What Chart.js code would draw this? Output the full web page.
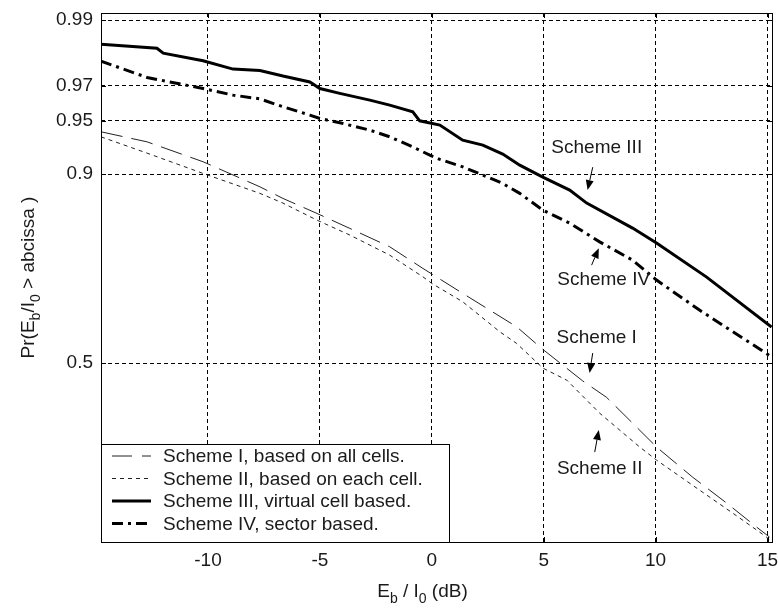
<!DOCTYPE html>
<html>
<head>
<meta charset="utf-8">
<script src="https://cdn.jsdelivr.net/npm/chart.js@4.4.1/dist/chart.umd.min.js"></script>
<style>
  body { margin: 0; background: #fff; }
  canvas { display: block; }
</style>
</head>
<body>
<canvas id="cdfChart" width="778" height="610"></canvas>
<script>
// Axis ranges (Eb/I0 in dB, probability on normal-probability paper)
const X_MIN = -14.78, X_MAX = 15.2;
const P_MIN = 0.1125, P_MAX = 0.9912;
const xTicks = [-10, -5, 0, 5, 10, 15];
const yTickProbs = [0.5, 0.9, 0.95, 0.97, 0.99];
const yTickLabels = ['0.5', '0.9', '0.95', '0.97', '0.99'];

// Scheme I, based on all cells
const schemeIdB = [-14.78, -12.72, -10.22, -7.68, -6.65, -5.13, -3.66, -1.88, -0.40, 1.38, 3.79, 4.96, 6.74, 7.81, 8.97, 10.04, 11.65, 13.17, 14.51, 15.09];
const schemeIProb = [0.9416, 0.9332, 0.9139, 0.8840, 0.8679, 0.8449, 0.8194, 0.7848, 0.7396, 0.6818, 0.5972, 0.537, 0.452, 0.408, 0.342, 0.2846, 0.2197, 0.1713, 0.1331, 0.1190];

// Scheme II, based on each cell
const schemeIIdB = [-14.78, -12.72, -10.22, -7.68, -6.65, -5.13, -3.66, -1.88, -0.40, 0, 1.38, 3.04, 3.79, 4.96, 6.03, 7.5, 9.29, 10.04, 11.96, 13.44, 14.96, 15.18];
const schemeIIProb = [0.9375, 0.9227, 0.9008, 0.8751, 0.8610, 0.8338, 0.8073, 0.7679, 0.7208, 0.7055, 0.6612, 0.584, 0.553, 0.4865, 0.454, 0.367, 0.2846, 0.2553, 0.1946, 0.1546, 0.119, 0.1124];

// Scheme III, virtual cell based
const schemeIIIdB = [-14.78, -12.28, -12.0, -10.22, -8.88, -7.68, -6.65, -5.45, -5.0, -4.11, -2.77, -1.88, -0.85, -0.54, 0.36, 1.38, 2.28, 3.17, 3.93, 4.96, 6.16, 6.92, 8.97, 10.04, 12.28, 15.18];
const schemeIIIProb = [0.9847, 0.9836, 0.9822, 0.9798, 0.9769, 0.9764, 0.9742, 0.9717, 0.9687, 0.9663, 0.9627, 0.9599, 0.9558, 0.9498, 0.9467, 0.9347, 0.9303, 0.9218, 0.9102, 0.8964, 0.8796, 0.8610, 0.8200, 0.7921, 0.7200, 0.5964];

// Scheme IV, sector based
const schemeIVdB = [-14.78, -12.72, -10.22, -8.88, -7.68, -6.65, -5.45, -5.0, -4.11, -2.77, -1.88, -0.85, -0.09, 0.36, 1.38, 2.28, 3.17, 3.93, 4.96, 6.16, 7.5, 8.97, 10.04, 11.96, 15.18];
const schemeIVProb = [0.9797, 0.9736, 0.9687, 0.9654, 0.9634, 0.9589, 0.9537, 0.9514, 0.9484, 0.9429, 0.9375, 0.9287, 0.9207, 0.9164, 0.9084, 0.8988, 0.8884, 0.8751, 0.8502, 0.8287, 0.7945, 0.7574, 0.7132, 0.6403, 0.517];

const legendLabels = ['Scheme I, based on all cells.', 'Scheme II, based on each cell.', 'Scheme III, virtual cell based.', 'Scheme IV, sector based.'];

// Callout text with arrow (tail -> tip), in dB / probability
const callouts = [
  { text: 'Scheme III', x: 7.37, p: 0.9276, tail: [7.19, 0.908], tip: [6.96, 0.8796] },
  { text: 'Scheme IV', x: 7.68, p: 0.713, tail: [7.14, 0.7467], tip: [7.46, 0.782] },
  { text: 'Scheme I', x: 7.37, p: 0.567, tail: [7.19, 0.527], tip: [7.05, 0.473] },
  { text: 'Scheme II', x: 7.5, p: 0.236, tail: [7.28, 0.273], tip: [7.46, 0.325] }
];

const FONT = '"Liberation Sans", Arial, sans-serif';
const TEXT_COLOR = '#1a1a1a';

// inverse of the standard normal CDF (Acklam's rational approximation)
function probit(p) {
  const a = [-3.969683028665376e+01, 2.209460984245205e+02, -2.759285104469687e+02, 1.383577518672690e+02, -3.066479806614716e+01, 2.506628277459239e+00];
  const b = [-5.447609879822406e+01, 1.615858368580409e+02, -1.556989798598866e+02, 6.680131188771972e+01, -1.328068155288572e+01];
  const c = [-7.784894002430293e-03, -3.223964580411365e-01, -2.400758277161838e+00, -2.549732539343734e+00, 4.374664141464968e+00, 2.938163982698783e+00];
  const d = [7.784695709041462e-03, 3.224671290700398e-01, 2.445134137142996e+00, 3.754408661907416e+00];
  const pl = 0.02425;
  let q, r;
  if (p < pl) {
    q = Math.sqrt(-2 * Math.log(p));
    return (((((c[0]*q+c[1])*q+c[2])*q+c[3])*q+c[4])*q+c[5]) / ((((d[0]*q+d[1])*q+d[2])*q+d[3])*q+1);
  }
  if (p > 1 - pl) {
    q = Math.sqrt(-2 * Math.log(1 - p));
    return -(((((c[0]*q+c[1])*q+c[2])*q+c[3])*q+c[4])*q+c[5]) / ((((d[0]*q+d[1])*q+d[2])*q+d[3])*q+1);
  }
  q = p - 0.5; r = q * q;
  return (((((a[0]*r+a[1])*r+a[2])*r+a[3])*r+a[4])*r+a[5])*q / (((((b[0]*r+b[1])*r+b[2])*r+b[3])*r+b[4])*r+1);
}

const toPoints = (xs, ps) => xs.map((x, i) => ({ x: x, y: probit(ps[i]) }));

// text with subscripts: parts = [[text, isSub], ...]
function drawRich(ctx, parts, x, y) {
  const main = '19px ' + FONT, sub = '14px ' + FONT;
  let w = 0;
  parts.forEach(([t, s]) => { ctx.font = s ? sub : main; w += ctx.measureText(t).width; });
  let cx = x - w / 2;
  ctx.textAlign = 'left';
  ctx.textBaseline = 'alphabetic';
  parts.forEach(([t, s]) => {
    ctx.font = s ? sub : main;
    ctx.fillText(t, cx, s ? y + 6 : y);
    cx += ctx.measureText(t).width;
  });
}

function arrow(ctx, x0, y0, x1, y1) {
  const ang = Math.atan2(y1 - y0, x1 - x0), len = 10, hw = 4;
  ctx.beginPath();
  ctx.moveTo(x0, y0);
  ctx.lineTo(x1 - Math.cos(ang) * len, y1 - Math.sin(ang) * len);
  ctx.lineWidth = 1;
  ctx.stroke();
  ctx.beginPath();
  ctx.moveTo(x1, y1);
  ctx.lineTo(x1 - Math.cos(ang) * len - Math.sin(ang) * hw, y1 - Math.sin(ang) * len + Math.cos(ang) * hw);
  ctx.lineTo(x1 - Math.cos(ang) * len + Math.sin(ang) * hw, y1 - Math.sin(ang) * len - Math.cos(ang) * hw);
  ctx.closePath();
  ctx.fill();
}

// box, inside ticks, legend, callouts and axis titles
const decorations = {
  id: 'decorations',
  afterDatasetsDraw(chart) {
    const { ctx, chartArea: a, scales } = chart;
    const xs = scales.x, ys = scales.y;
    ctx.save();
    ctx.strokeStyle = '#000';
    ctx.fillStyle = '#000';
    ctx.lineWidth = 1;
    ctx.setLineDash([]);

    // inward tick marks on all four sides
    ctx.beginPath();
    xTicks.forEach(v => {
      const px = Math.round(xs.getPixelForValue(v)) + 0.5;
      ctx.moveTo(px, a.top); ctx.lineTo(px, a.top + 5);
      ctx.moveTo(px, a.bottom); ctx.lineTo(px, a.bottom - 5);
    });
    yTickProbs.forEach(p => {
      const py = Math.round(ys.getPixelForValue(probit(p))) + 0.5;
      ctx.moveTo(a.left, py); ctx.lineTo(a.left + 5, py);
      ctx.moveTo(a.right, py); ctx.lineTo(a.right - 5, py);
    });
    ctx.stroke();

    // legend box in the lower left corner
    const lx = a.left, ly = a.bottom - 98, lw = 348, lh = 98;
    ctx.fillStyle = '#fff';
    ctx.fillRect(lx, ly, lw, lh);
    ctx.strokeStyle = '#000';
    ctx.strokeRect(lx + 0.5, ly + 0.5, lw, lh);
    chart.data.datasets.forEach((ds, i) => {
      const ry = ly + 12 + i * 22.5;
      ctx.beginPath();
      ctx.strokeStyle = ds.borderColor;
      ctx.lineWidth = ds.borderWidth;
      ctx.setLineDash(ds.legendDash || ds.borderDash || []);
      ctx.moveTo(lx + 11, ry); ctx.lineTo(lx + 50, ry);
      ctx.stroke();
      ctx.setLineDash([]);
      ctx.fillStyle = TEXT_COLOR;
      ctx.font = '19px ' + FONT;
      ctx.textAlign = 'left';
      ctx.textBaseline = 'middle';
      ctx.fillText(legendLabels[i], lx + 62, ry + 1);
    });

    // callouts
    ctx.strokeStyle = '#000';
    ctx.fillStyle = '#000';
    callouts.forEach(c => {
      const tx = xs.getPixelForValue(c.x), ty = ys.getPixelForValue(probit(c.p));
      ctx.fillStyle = TEXT_COLOR;
      ctx.font = '19px ' + FONT;
      ctx.textAlign = 'center';
      ctx.textBaseline = 'middle';
      ctx.fillText(c.text, tx, ty);
      ctx.fillStyle = '#000';
      arrow(ctx,
        xs.getPixelForValue(c.tail[0]), ys.getPixelForValue(probit(c.tail[1])),
        xs.getPixelForValue(c.tip[0]), ys.getPixelForValue(probit(c.tip[1])));
    });

    // axes box
    ctx.strokeStyle = '#000';
    ctx.lineWidth = 1;
    ctx.strokeRect(a.left + 0.5, a.top + 0.5, a.right - a.left, a.bottom - a.top);

    // axis titles
    ctx.fillStyle = TEXT_COLOR;
    drawRich(ctx, [['E', false], ['b', true], [' / I', false], ['0', true], [' (dB)', false]], (a.left + a.right) / 2 - 14, a.bottom + 55);
    ctx.translate(34, (a.top + a.bottom) / 2);
    ctx.rotate(-Math.PI / 2);
    drawRich(ctx, [['Pr(E', false], ['b', true], ['/I', false], ['0', true], [' > abcissa )', false]], 0, 0);
    ctx.restore();
  }
};

const ctx = document.getElementById('cdfChart').getContext('2d');

const chart = new Chart(ctx, {
  type: 'line',
  data: {
    datasets: [
      { label: legendLabels[0], data: toPoints(schemeIdB, schemeIProb), borderColor: '#222', borderWidth: 1, borderDash: [22, 9], legendDash: [20, 10], pointRadius: 0, fill: false, tension: 0 },
      { label: legendLabels[1], data: toPoints(schemeIIdB, schemeIIProb), borderColor: '#222', borderWidth: 1, borderDash: [4, 4], pointRadius: 0, fill: false, tension: 0 },
      { label: legendLabels[2], data: toPoints(schemeIIIdB, schemeIIIProb), borderColor: '#000', borderWidth: 3, pointRadius: 0, fill: false, tension: 0 },
      { label: legendLabels[3], data: toPoints(schemeIVdB, schemeIVProb), borderColor: '#000', borderWidth: 3, borderDash: [11, 5, 3, 5], pointRadius: 0, fill: false, tension: 0 }
    ]
  },
  options: {
    responsive: false,
    animation: false,
    layout: { padding: { top: 13, right: 6, left: 0, bottom: 0 } },
    plugins: { legend: { display: false }, tooltip: { enabled: false } },
    scales: {
      x: {
        type: 'linear',
        min: X_MIN,
        max: X_MAX,
        afterBuildTicks: s => { s.ticks = xTicks.map(v => ({ value: v })); },
        afterFit: s => { s.height = 68; s.paddingLeft = 0; s.paddingRight = 0; },
        grid: { color: '#000', lineWidth: 1, drawTicks: false },
        border: { display: false, dash: [4, 3] },
        ticks: { font: { family: FONT, size: 19 }, color: TEXT_COLOR, padding: 7, maxRotation: 0 }
      },
      y: {
        type: 'linear',
        min: probit(P_MIN),
        max: probit(P_MAX),
        afterBuildTicks: s => { s.ticks = yTickProbs.map(p => ({ value: probit(p) })); },
        afterFit: s => { s.width = 101; s.paddingTop = 0; s.paddingBottom = 0; },
        grid: { color: '#000', lineWidth: 1, drawTicks: false },
        border: { display: false, dash: [4, 3] },
        ticks: {
          font: { family: FONT, size: 19 },
          color: TEXT_COLOR,
          padding: 8,
          callback: (v, i) => yTickLabels[i]
        }
      }
    }
  },
  plugins: [decorations]
});
</script>
</body>
</html>
